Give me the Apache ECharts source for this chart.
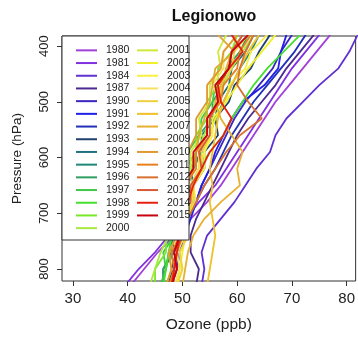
<!DOCTYPE html>
<html>
<head>
<meta charset="utf-8">
<script src="https://cdn.jsdelivr.net/npm/echarts@6/dist/echarts.min.js"></script>
<style>
  html, body { margin: 0; padding: 0; background: #fff; }
  #chart { width: 358px; height: 339px; }
</style>
</head>
<body>
<div id="chart"></div>
<script>
// pressure levels (hPa) shared by every sounding profile
const pressure = [380, 410, 440, 470, 500, 530, 560, 590, 620, 650, 680, 710, 740, 770, 800, 830];

const years = ["1980", "1981", "1984", "1987", "1990", "1991", "1992", "1993", "1994", "1995",
  "1996", "1997", "1998", "1999", "2000", "2001", "2002", "2003", "2004", "2005",
  "2006", "2007", "2009", "2010", "2011", "2012", "2013", "2014", "2015"];

// ozone (ppb) at each pressure level
const o1980 = [77, 74.5, 72, 69.5, 67, 65, 63, 61, 59, 57, 54.5, 51.5, 48.5, 45.5, 43, 40.5];
const o1981 = [75, 72.5, 70, 68, 66, 64, 62, 60, 58, 56, 53, 50.5, 47.5, 45, 42, 39.5];
const o1984 = [82, 80.5, 78.5, 75, 72, 69, 67, 66, 63.5, 61.5, 59.5, 57, 54.5, 53.5, 54, 53.5];
const o1987 = [74, 71.5, 69, 67, 64.5, 62, 60, 58.5, 57, 55.5, 54, 52.5, 51.5, 51.5, 53, 52.5];
const o1990 = [70, 68, 66.5, 64, 61.5, 59.5, 58, 56.5, 55, 53.5, 52.5, 51, 50, 49, 48, 47.5];
const o1991 = [69, 68, 67.5, 65, 61, 59, 57.5, 56, 55, 53.5, 52.5, 51.5, 50.5, 49.5, 49, 48];
const o1992 = [72.5, 70.5, 68, 65.5, 63, 61, 59, 57.5, 56, 54, 52.5, 51, 50, 49, 48.5, 48];
const o1993 = [66, 64, 62.5, 59.5, 58.5, 56, 56.5, 54, 54, 52, 52, 50, 50, 48, 48.5, 47];
const o1994 = [63, 61.5, 59, 58.5, 56.5, 56, 53.5, 53.5, 51.5, 52, 50, 50, 48, 48.5, 46.5, 46.5];
const o1995 = [64, 62.5, 60.5, 59, 57.5, 56, 55, 53.5, 52, 51, 50, 49, 48.5, 47.5, 47, 46];
const o1996 = [62, 60.5, 58, 57.5, 55.5, 55.5, 53, 52.5, 50.5, 50.5, 49, 49, 47.5, 48, 46.5, 46.5];
const o1997 = [61, 59, 58.5, 56, 55.5, 53.5, 53, 51, 51, 49.5, 49.5, 48, 48.5, 46.5, 47, 46];
const o1998 = [71.5, 68.5, 65.5, 63, 61, 59, 57.5, 55, 53, 51.5, 50, 49, 48, 47.5, 47, 46.5];
const o1999 = [60, 59, 56.5, 56.5, 54.5, 54.5, 52.5, 52.5, 50.5, 50.5, 48.5, 48.5, 47, 47, 45, 45];
const o2000 = [63, 61, 59, 57.5, 56, 55, 54, 52.5, 51.5, 50.5, 49.5, 48.5, 47.5, 46, 45, 44];
const o2001 = [58, 56.5, 57, 55, 55, 53, 53.5, 51.5, 51.5, 50, 50, 48.5, 49, 47.5, 48, 47];
const o2002 = [67, 64.5, 62, 60, 58, 56, 55, 54, 53, 52, 51.5, 51, 50.5, 50, 49.5, 49];
const o2003 = [65.5, 62.5, 61.5, 58.5, 58, 55.5, 55.5, 54, 54, 52, 52.5, 50.5, 51, 49.5, 50, 49];
const o2004 = [60, 57.5, 57.5, 55.5, 57, 54.5, 54.5, 53, 53, 51.5, 52, 50.5, 50.5, 49, 49.5, 48.5];
const o2005 = [62, 59.5, 59, 57, 57, 55, 55, 53.5, 53.5, 52, 52, 50.5, 51, 49.5, 50, 49];
const o2006 = [64, 62, 60.5, 59, 57.5, 56.5, 56, 55.5, 55, 55.5, 55, 55.5, 56, 55.5, 55, 54.5];
const o2007 = [61, 59, 58, 57, 56, 57, 59, 61, 60, 60.5, 57, 54, 52, 51, 50.5, 50];
const o2009 = [56.5, 59.5, 56, 55.5, 55, 54, 53, 52.5, 52, 51, 50.5, 50, 49.5, 49, 48.5, 48];
const o2010 = [60, 57.5, 57, 54.5, 54.5, 52.5, 52.5, 51, 51, 49.5, 50, 48.5, 49, 47.5, 48, 47];
const o2011 = [62.5, 60.5, 60, 57.5, 57, 54.5, 54.5, 52.5, 52.5, 50.5, 51, 49.5, 49.5, 48, 48.5, 47.5];
const o2012 = [63, 61.5, 60.5, 60, 62, 64.5, 60.5, 58, 56, 54, 52.5, 51, 50, 49, 48.5, 48];
const o2013 = [61, 59, 58.5, 56.5, 56.5, 55, 55, 53, 53.5, 51.5, 51.5, 49.5, 50, 48.5, 49, 48];
const o2014 = [59, 61, 58.5, 56.5, 57, 59, 57.5, 55, 53.5, 52, 51, 50.5, 49.5, 49, 48.5, 48];
const o2015 = [62, 59, 58.5, 56, 56.5, 54.5, 54.5, 52, 52, 50, 50.5, 49, 49.5, 48.5, 49, 48];

const profiles = [o1980, o1981, o1984, o1987, o1990, o1991, o1992, o1993, o1994, o1995,
  o1996, o1997, o1998, o1999, o2000, o2001, o2002, o2003, o2004, o2005,
  o2006, o2007, o2009, o2010, o2011, o2012, o2013, o2014, o2015];

const xTicks = [30, 40, 50, 60, 70, 80];
const yTicks = [400, 500, 600, 700, 800];

const palette = ["#a040d8", "#8030e0", "#6030d0", "#4a2a90", "#3a28c0", "#2020e8", "#2030b8", "#204070",
  "#207080", "#208878", "#30a060", "#40c848", "#44e030", "#78e828", "#a8e840", "#d0e838",
  "#f0f028", "#f8f040", "#f8e060", "#f0d040", "#f0c028", "#e8b030", "#e0a838", "#e09830",
  "#e88020", "#d87030", "#d85838", "#e82010", "#c80010"];

const FONT = "Liberation Sans, Arial, sans-serif";

const chart = echarts.init(document.getElementById("chart"), null, { renderer: "canvas" });

const legendBase = {
  orient: "vertical",
  top: 39,
  icon: "rect",
  itemWidth: 21,
  itemHeight: 2,
  itemGap: 0,
  z: 20,
  selectedMode: false,
  textStyle: { fontFamily: FONT, fontSize: 10.5, lineHeight: 12.7, color: "#222", padding: [0, 0, 0, 4] },
};

chart.setOption({
  animation: false,
  backgroundColor: "#fff",
  textStyle: { fontFamily: FONT },
  title: {
    text: "Legionowo",
    left: 209,
    top: 4,
    textAlign: "center",
    textStyle: { fontFamily: FONT, fontSize: 16, fontWeight: "bold", color: "#111" },
  },
  grid: { left: 62, right: 2, top: 36, bottom: 58, show: true, borderColor: "#333", borderWidth: 1, backgroundColor: "transparent" },
  xAxis: {
    type: "value",
    min: 28,
    max: 81.64,
    name: "Ozone (ppb)",
    nameLocation: "middle",
    nameGap: 36,
    nameTextStyle: { fontFamily: FONT, fontSize: 15.5, color: "#222" },
    axisLine: { show: false },
    axisTick: { show: true, length: 5, customValues: xTicks, lineStyle: { color: "#333" } },
    axisLabel: { customValues: xTicks, margin: 10, fontFamily: FONT, fontSize: 15, color: "#222" },
    splitLine: { show: false },
  },
  yAxis: {
    type: "value",
    inverse: true,
    min: 382,
    max: 821.5,
    name: "Pressure (hPa)",
    nameLocation: "middle",
    nameGap: 38,
    nameTextStyle: { fontFamily: FONT, fontSize: 13.5, color: "#222" },
    axisLine: { show: false },
    axisTick: { show: true, length: 5, customValues: yTicks, lineStyle: { color: "#333" } },
    axisLabel: { customValues: yTicks, rotate: 90, margin: 11, fontFamily: FONT, fontSize: 13, color: "#222" },
    splitLine: { show: false },
  },
  legend: [
    { ...legendBase, left: 71, data: years.slice(0, 15) },
    { ...legendBase, left: 132, data: years.slice(15) },
  ],
  graphic: [{
    type: "rect",
    z: 10,
    shape: { x: 62, y: 36, width: 127, height: 204 },
    style: { fill: "#fff", stroke: "#333", lineWidth: 1 },
  }],
  series: years.map((yr, i) => ({
    name: yr,
    type: "line",
    data: profiles[i].map((v, k) => [v, pressure[k]]),
    showSymbol: false,
    symbol: "none",
    clip: true,
    lineStyle: { width: 1.8, color: palette[i] },
    itemStyle: { color: palette[i] },
  })),
});
</script>
</body>
</html>
